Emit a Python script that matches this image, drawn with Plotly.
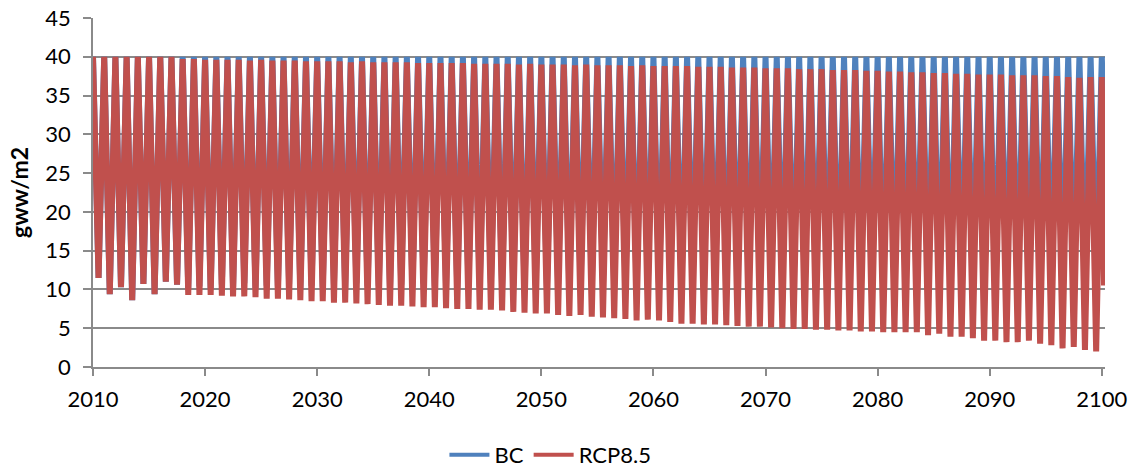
import plotly.graph_objects as go

# ---- data (one seasonal cycle per year) ----
years = list(range(2010, 2101))  # peak at the start of each year, 2010..2100

# RCP8.5 yearly maxima (2010..2100)
rcp_peaks = [
    40.0, 40.0, 40.0, 40.0, 40.0, 40.0, 40.0, 40.0, 39.7, 39.7,   # 2010-2019
    39.6, 39.6, 39.6, 39.6, 39.5, 39.6, 39.5, 39.5, 39.5, 39.4,   # 2020-2029
    39.4, 39.4, 39.4, 39.3, 39.4, 39.3, 39.3, 39.3, 39.3, 39.2,   # 2030-2039
    39.2, 39.2, 39.2, 39.2, 39.1, 39.1, 39.1, 39.1, 39.0, 39.1,   # 2040-2049
    39.0, 39.0, 39.0, 38.9, 39.0, 38.9, 38.9, 38.9, 38.8, 38.9,   # 2050-2059
    38.8, 38.8, 38.8, 38.8, 38.7, 38.7, 38.7, 38.6, 38.6, 38.6,   # 2060-2069
    38.5, 38.5, 38.5, 38.4, 38.4, 38.4, 38.3, 38.3, 38.3, 38.2,   # 2070-2079
    38.2, 38.1, 38.1, 38.0, 38.0, 37.9, 37.9, 37.8, 37.8, 37.7,   # 2080-2089
    37.7, 37.7, 37.6, 37.6, 37.6, 37.5, 37.5, 37.4, 37.3, 37.4,   # 2090-2099
    37.4,                                                         # 2100
]
# RCP8.5 yearly minima (2010..2099)
rcp_troughs = [
    11.5, 9.4, 10.3, 8.6, 10.7, 9.4, 11.0, 10.6, 9.3, 9.3,        # 2010-2019
    9.3, 9.2, 9.1, 9.1, 9.0, 8.8, 8.8, 8.7, 8.6, 8.5,             # 2020-2029
    8.5, 8.3, 8.3, 8.2, 8.1, 8.0, 7.9, 7.9, 7.8, 7.7,             # 2030-2039
    7.7, 7.6, 7.5, 7.5, 7.4, 7.4, 7.3, 7.1, 7.0, 6.9,             # 2040-2049
    6.9, 6.7, 6.6, 6.7, 6.5, 6.4, 6.3, 6.2, 6.0, 6.1,             # 2050-2059
    6.0, 5.8, 5.6, 5.6, 5.5, 5.5, 5.4, 5.3, 5.2, 5.2,             # 2060-2069
    5.1, 5.0, 4.9, 4.9, 4.8, 4.8, 4.7, 4.7, 4.6, 4.6,             # 2070-2079
    4.5, 4.5, 4.5, 4.5, 4.1, 4.3, 3.9, 3.9, 3.7, 3.4,             # 2080-2089
    3.4, 3.2, 3.2, 3.4, 3.0, 2.8, 2.4, 2.6, 2.2, 2.0,             # 2090-2099
]
rcp_end = 10.5

# BC yearly maxima (2010..2100)
bc_peaks = [
    40.0, 40.0, 40.0, 40.0, 40.0, 40.0, 40.0, 40.0, 40.0, 40.0,
    40.0, 40.0, 40.0, 40.0, 40.0, 40.0, 40.0, 40.0, 40.0, 40.0,
    40.0, 40.0, 40.0, 40.0, 40.0, 40.0, 40.0, 40.0, 40.0, 40.0,
    40.0, 40.0, 40.0, 40.0, 40.0, 40.0, 40.0, 40.0, 40.0, 40.0,
    40.0, 40.0, 40.0, 40.0, 40.0, 40.0, 40.0, 40.0, 40.0, 40.0,
    40.0, 40.0, 40.0, 40.0, 40.0, 40.0, 40.0, 40.0, 40.0, 40.0,
    40.0, 40.0, 40.0, 40.0, 40.0, 40.0, 40.0, 40.0, 40.0, 40.0,
    40.0, 40.0, 40.0, 40.0, 40.0, 40.0, 40.0, 40.0, 40.0, 40.0,
    40.0, 40.0, 40.0, 40.0, 40.0, 40.0, 40.0, 40.0, 40.0, 40.0,
    40.0,
]
# BC yearly minima (2010..2099) - mostly hidden behind RCP8.5
bc_troughs = [
    11.5, 9.4, 10.3, 8.6, 10.7, 9.4, 11.0, 10.6, 10.2, 10.4,
    10.1, 10.6, 10.3, 10.8, 10.2, 10.5, 10.4, 10.7, 10.1, 10.5,
    10.3, 10.6, 10.2, 10.8, 10.4, 10.5, 10.2, 10.6, 10.3, 10.7,
    10.4, 10.5, 10.2, 10.6, 10.3, 10.8, 10.4, 10.5, 10.1, 10.6,
    10.3, 10.7, 10.2, 10.5, 10.4, 10.6, 10.3, 10.8, 10.2, 10.5,
    10.4, 10.6, 10.1, 10.7, 10.3, 10.5, 10.2, 10.6, 10.4, 10.8,
    10.3, 10.5, 10.2, 10.6, 10.4, 10.7, 10.1, 10.5, 10.3, 10.6,
    10.2, 10.8, 10.4, 10.5, 10.3, 10.6, 10.2, 10.7, 10.4, 10.5,
    10.1, 10.6, 10.3, 10.8, 10.2, 10.5, 10.4, 10.6, 10.3, 10.7,
]
bc_end = 30.0

end_date = "2100-03-15"
tick_years = [str(y) for y in range(2010, 2101, 10)]

BLUE = "#4F81BD"
RED = "#C0504D"
GRID = "#8A8A8A"
FONT = "Lato"


def build(peaks, troughs, end):
    xs, ys = [], []
    for i, yr in enumerate(years):
        xs.append(f"{yr}-01-01")
        ys.append(peaks[i])
        if i < len(troughs):
            xs.append(f"{yr}-07-01")
            ys.append(troughs[i])
    xs.append(end_date)
    ys.append(end)
    return xs, ys


bx, by = build(bc_peaks, bc_troughs, bc_end)
rx, ry = build(rcp_peaks, rcp_troughs, rcp_end)

fig = go.Figure()
fig.add_trace(go.Scatter(x=bx, y=by, mode="lines", name="BC",
                         legendgroup="bc", showlegend=False,
                         line=dict(color=BLUE, width=6)))
fig.add_trace(go.Scatter(x=rx, y=ry, mode="lines", name="RCP8.5",
                         legendgroup="rcp", showlegend=False,
                         line=dict(color=RED, width=6)))
# legend entries (thinner legend swatches, as in the reference)
fig.add_trace(go.Scatter(x=[None], y=[None], mode="lines", name="BC",
                         legendgroup="bc", line=dict(color=BLUE, width=4)))
fig.add_trace(go.Scatter(x=[None], y=[None], mode="lines", name="RCP8.5",
                         legendgroup="rcp", line=dict(color=RED, width=4)))

fig.update_layout(
    width=1137, height=470,
    margin=dict(l=93, r=32, t=18, b=103, autoexpand=False),
    paper_bgcolor="white", plot_bgcolor="white",
    font=dict(family=FONT, size=22, color="black"),
    showlegend=True,
    legend=dict(orientation="h", x=0.452, xanchor="center",
                y=-0.252, yanchor="middle",
                font=dict(family=FONT, size=22, color="black"),
                itemwidth=40, tracegroupgap=0),
    xaxis=dict(
        type="date",
        range=["2010-01-01", "2100-04-15"],
        tickmode="array",
        tickvals=[f"{y}-01-01" for y in tick_years],
        ticktext=tick_years,
        ticks="outside", ticklen=7, tickwidth=1.5, tickcolor=GRID,
        showline=True, linecolor=GRID, linewidth=1.5,
        showgrid=False, zeroline=False,
        tickfont=dict(family=FONT, size=22, color="black"),
        ticklabelstandoff=5,
        automargin=False,
    ),
    yaxis=dict(
        range=[0, 45], dtick=5, tick0=0,
        ticks="outside", ticklen=8, tickwidth=1.5, tickcolor=GRID,
        showline=True, linecolor=GRID, linewidth=1.5,
        showgrid=True, gridcolor=GRID, gridwidth=1.5,
        zeroline=False,
        tickfont=dict(family=FONT, size=22, color="black"),
        ticklabelstandoff=8,
        automargin=False,
        title=dict(text="<b>gww/m2</b>", standoff=10,
                   font=dict(family=FONT, size=23, color="black")),
    ),
)

fig.write_html("out.html")
